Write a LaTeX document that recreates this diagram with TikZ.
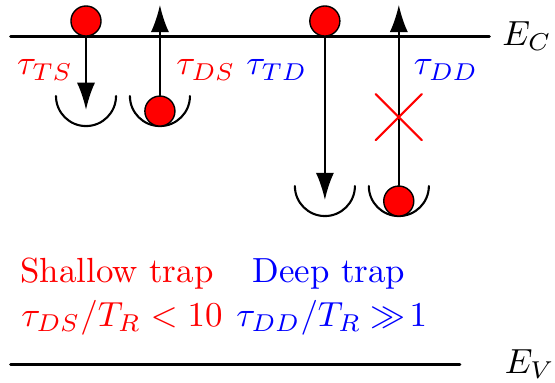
\documentclass[tikz,border=0pt]{standalone}
\usepackage{amsmath,amssymb}
\usepackage{xcolor}
\usepackage{tikz}
\usetikzlibrary{arrows.meta,positioning,shapes.misc}

\begin{document}
\begin{tikzpicture}[scale=1.058, >={Latex[length=7.8pt,width=5.2pt]}, line cap=round, line join=round,
		ball/.style={circle, draw=black, fill=red, inner sep=0pt, minimum size=0.303cm},
		level/.style={line width=0.85pt},
		jump/.style={->, semithick},
		bowl/.style={semithick}]
		\useasboundingbox (0,0) rectangle (5.286,3.647);
		
		% band edges
		\draw[level] (0.10,3.30) -- (4.66,3.30) node[right] (ec) {$E_C$};
		\draw[level] (0.10,0.18) -- (4.38,0.18);
		\node[right] (ev) at (4.69,0.18) {$E_V$};
		
		% shallow trap
		\begin{scope}[shift={(0,0)}]
			\node[ball] (b1) at (0.819,3.447) {};
			\coordinate (t1) at (0.819,2.60);
			\coordinate (w1) at (0.819,2.732);
			\draw[bowl] (w1) ++(-0.286,0) arc (180:360:0.286);
			\draw[jump] (b1.south) -- (t1);
			\node[text=red] (tts) at (0.428,2.98) {$\tau_{TS}$};
			
			\coordinate (w2) at (1.523,2.732);
			\draw[bowl] (w2) ++(-0.286,0) arc (180:360:0.286);
			\node[ball] (b2) at (1.523,2.589) {};
			\coordinate (t2) at (1.523,3.60);
			\draw[jump] (b2.north) -- (t2);
			\node[text=red] (tds) at (1.961,2.98) {$\tau_{DS}$};
		\end{scope}
		
		% deep trap
		\begin{scope}[shift={(0,0)}]
			\node[ball] (b3) at (3.094,3.447) {};
			\coordinate (t3) at (3.094,1.742);
			\coordinate (w3) at (3.094,1.875);
			\draw[bowl] (w3) ++(-0.286,0) arc (180:360:0.286);
			\draw[jump] (b3.south) -- (t3);
			\node[text=blue] (ttd) at (2.637,2.98) {$\tau_{TD}$};
			
			\coordinate (w4) at (3.798,1.875);
			\draw[bowl] (w4) ++(-0.286,0) arc (180:360:0.286);
			\node[ball] (b4) at (3.798,1.732) {};
			\coordinate (t4) at (3.798,3.60);
			\draw[jump] (b4.north) -- (t4);
			\node[cross out, draw=red, semithick, minimum size=0.444cm, inner sep=0pt] (x4) at (3.798,2.532) {};
			\node[text=blue] (tdd) at (4.246,2.98) {$\tau_{DD}$};
		\end{scope}
		
		% captions
		\node[text=red] (shallow) at (1.114,1.042) {Shallow trap};
		\node[text=red] (rshallow) at (1.161,0.624) {$\tau_{DS}/T_R < 10$};
		\node[text=blue] (deep) at (3.132,1.042) {Deep trap};
		\node[text=blue] (rdeep) at (3.16,0.624) {$\tau_{DD}/T_R \gg\!1$};
	\end{tikzpicture}
\end{document}
